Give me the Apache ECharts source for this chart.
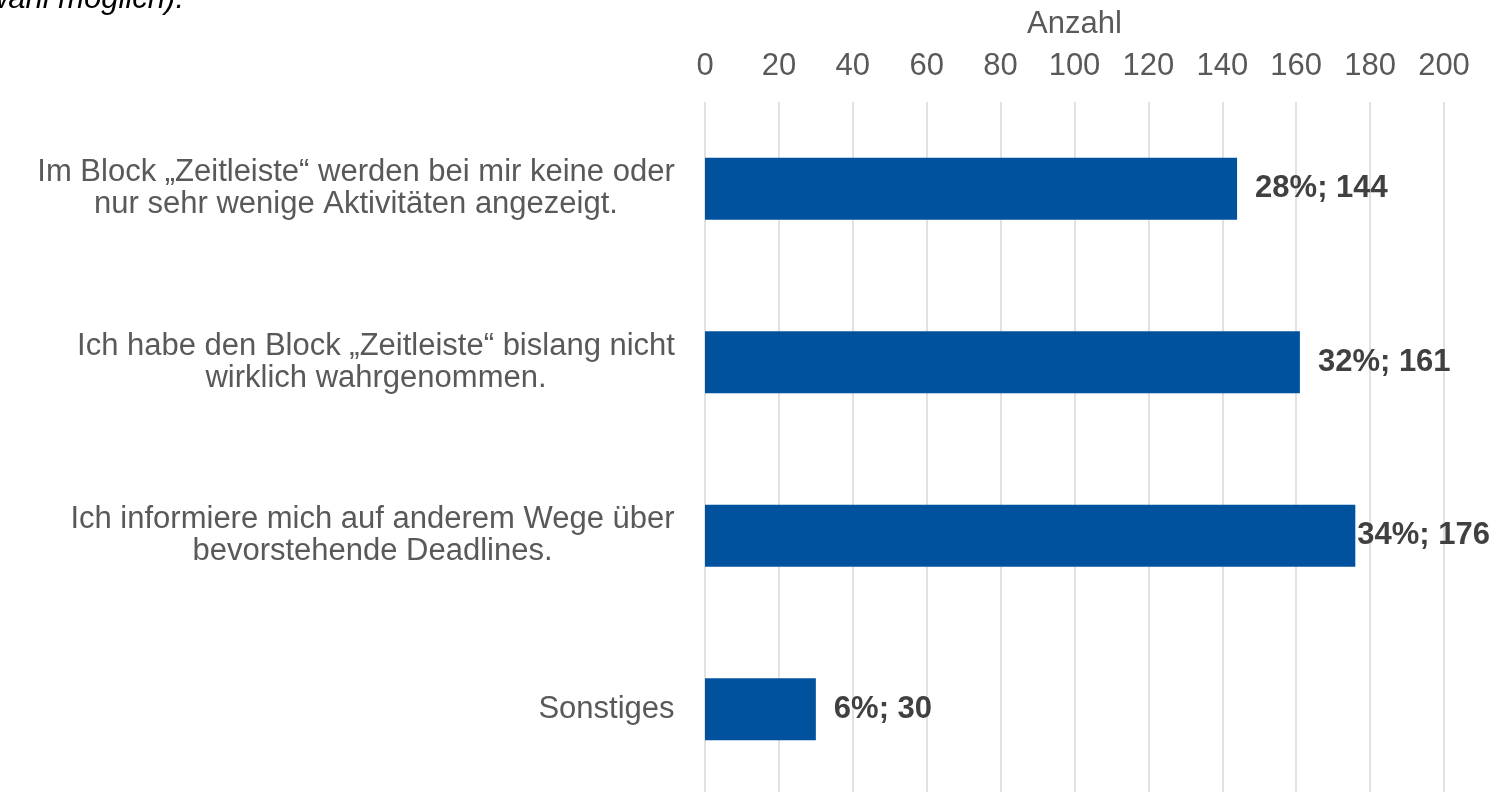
<!DOCTYPE html>
<html>
<head>
<meta charset="utf-8">
<script src="https://cdn.jsdelivr.net/npm/echarts@6/dist/echarts.min.js"></script>
<style>
  html, body { margin: 0; padding: 0; background: #fff; }
  #main { width: 1502px; height: 792px; }
</style>
</head>
<body>
<div id="main"></div>
<script>
// Daten
var categories = [
  'Im Block „Zeitleiste“ werden bei mir keine oder\nnur sehr wenige Aktivitäten angezeigt.',
  'Ich habe den Block „Zeitleiste“ bislang nicht\nwirklich wahrgenommen.',
  'Ich informiere mich auf anderem Wege über\nbevorstehende Deadlines.',
  'Sonstiges'
]
var counts = [144, 161, 176, 30]
var percents = [28, 32, 34, 6]

var myChart = echarts.init(document.getElementById('main'))
var font = 'Liberation Sans, Arial, sans-serif'

// Zeilen innerhalb eines Labels zentrieren, Block rechtsbündig
var ctx = document.createElement('canvas').getContext('2d')
ctx.font = '31px ' + font
var rich = {}
categories.forEach(function (c, i) {
  var w = Math.max.apply(null, c.split('\n').map(function (l) { return ctx.measureText(l).width }))
  rich['c' + i] = {
    width: Math.ceil(w), align: 'center',
    fontFamily: font, fontSize: 31, color: '#595959', lineHeight: 32
  }
})

var option = {
  animation: false,
  backgroundColor: '#fff',
  graphic: [{
    type: 'text',
    right: 1502 - 184,
    top: -16,
    style: {
      text: '(Mehrfachauswahl möglich).',
      font: 'italic 31px ' + font,
      fill: '#000',
      textAlign: 'right'
    }
  }],
  grid: { left: 705, right: 58, top: 102, height: 694, outerBoundsMode: 'none' },
  xAxis: {
    type: 'value',
    position: 'top',
    min: 0, max: 200, interval: 20,
    name: 'Anzahl',
    nameLocation: 'middle',
    nameGap: 62,
    nameTextStyle: { fontFamily: font, fontSize: 31, color: '#595959' },
    axisLine: { show: false },
    axisTick: { show: false },
    axisLabel: { fontFamily: font, fontSize: 31, color: '#595959', margin: 20 },
    splitLine: { lineStyle: { color: '#d9d9d9', width: 1.5 } }
  },
  yAxis: {
    type: 'category',
    inverse: true,
    data: categories,
    axisLine: { show: false },
    axisTick: { show: false },
    axisLabel: {
      fontFamily: font, fontSize: 31, color: '#595959',
      lineHeight: 32, align: 'right', margin: 30,
      formatter: function (value, index) {
        return value.split('\n').map(function (l) { return '{c' + index + '|' + l + '}' }).join('\n')
      },
      rich: rich
    }
  },
  series: [{
    type: 'bar',
    barWidth: 62,
    itemStyle: { color: '#00529f' },
    data: counts.map(function (v, i) {
      return {
        value: v,
        label: { distance: v === 176 ? 2 : 18 }
      }
    }),
    label: {
      show: true,
      position: 'right',
      fontFamily: font,
      fontSize: 31,
      fontWeight: 'bold',
      color: '#404040',
      formatter: function (p) {
        return percents[p.dataIndex] + '%; ' + p.value
      }
    }
  }]
}
myChart.setOption(option)
</script>
</body>
</html>
